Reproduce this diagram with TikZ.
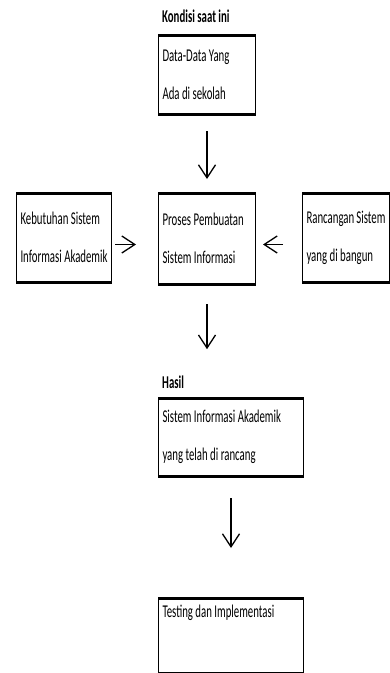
\documentclass[tikz,border=0pt]{standalone}
\usepackage{fontspec}
\setmainfont{Carlito}[FakeStretch=0.6]
\usetikzlibrary{calc, arrows.meta}

\begin{document}
\begin{tikzpicture}[x=1pt, y=-1pt]
    \tikzstyle{box} = [draw, line width=1pt, anchor=north west, align=flush left, inner xsep=4pt, inner ysep=0pt,
        font=\fontsize{18}{38}\selectfont]
    \tikzstyle{heading} = [anchor=base west, inner sep=0pt, font=\fontsize{18}{20}\selectfont\bfseries]
    \tikzstyle{flow} = [line width=1.3pt, -{Straight Barb[length=13pt, width=17pt, line width=1.3pt]}]

    \useasboundingbox (0, 0) rectangle (390, 673);

    % Boxes ----------------------------------------
    \node (kondisi) at (162, 22) [heading] {Kondisi saat ini};
    \node (data) at (158, 35) [box, text width=89pt, minimum height=78pt] {Data-Data Yang\\Ada di sekolah};

    \node (proses) at ($(data.south west) + (0, 79)$) [box, text width=89pt, minimum height=90pt]
        {Proses Pembuatan\\Sistem Informasi};
    \node (kebutuhan) at ($(proses.north west) + (-142, 0)$) [box, text width=87pt, minimum height=88pt]
        {Kebutuhan Sistem\\Informasi Akademik};
    \node (rancangan) at ($(proses.north west) + (144, 0)$) [box, text width=79pt, minimum height=88pt]
        {Rancangan Sistem\\yang di bangun};

    \node (hasil) at (162, 388) [heading] {Hasil};
    \node (sia) at (158, 398) [box, text width=137pt, minimum height=77pt]
        {Sistem Informasi Akademik\\yang telah di rancang};
    \node (testing) at ($(sia.south west) + (0, 122)$) [box, text width=137pt, minimum height=74pt]
        {Testing dan Implementasi\\\strut};

    \foreach \b in {data, proses, kebutuhan, rancangan, sia, testing}
        \draw[line width=3pt] (\b.north west) -- (\b.north east) (\b.south west) -- (\b.south east);
    % ---------------------------------------------------

    % Arrows
    \draw[flow, shorten <=17pt, shorten >=14pt] (data) -- (proses);
    \draw[flow, shorten <=3pt, shorten >=22pt] ([yshift=-7pt]kebutuhan.east) -- ([yshift=-7pt]kebutuhan.east -| proses.west);
    \draw[flow, shorten <=19pt, shorten >=7pt] ([yshift=-7pt]rancangan.west) -- ([yshift=-7pt]rancangan.west -| proses.east);
    \draw[flow, shorten <=20pt, shorten >=26pt] (proses) -- (proses |- hasil.north);
    \draw[flow, shorten <=22pt, shorten >=50pt] (sia) -- (testing);
\end{tikzpicture}
\end{document}
